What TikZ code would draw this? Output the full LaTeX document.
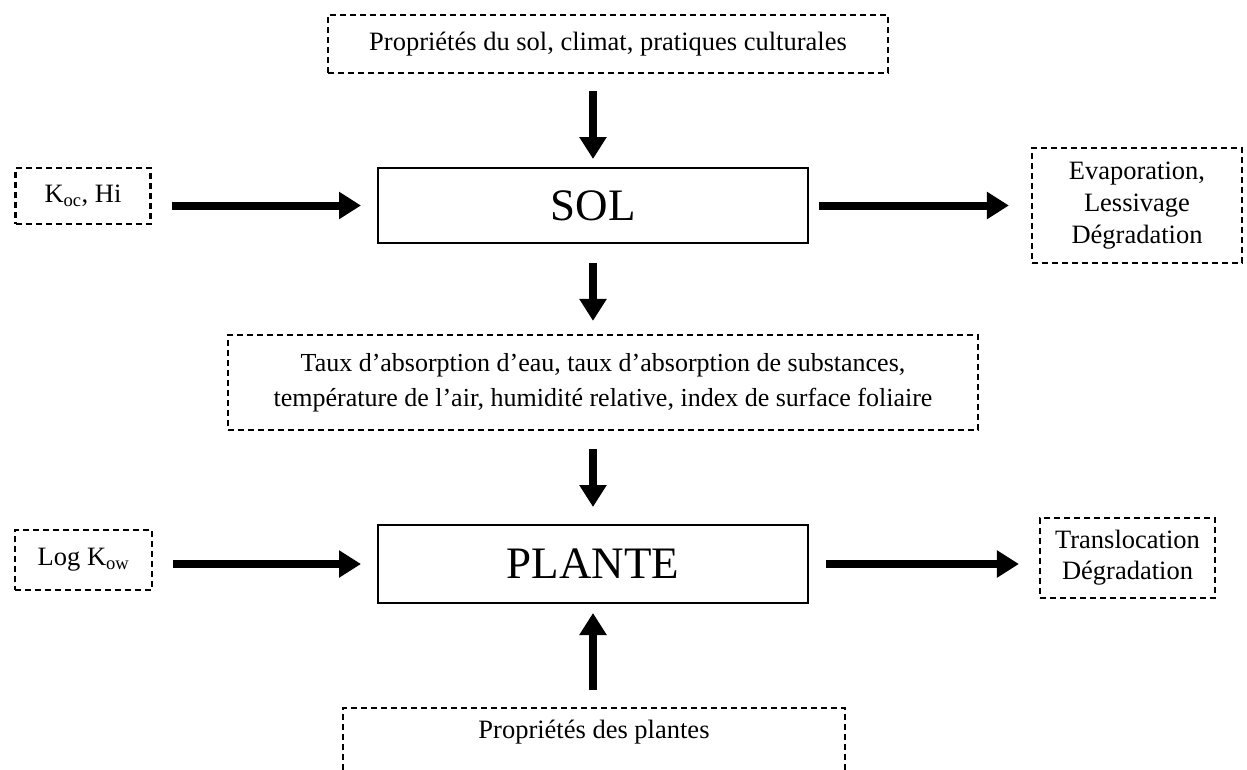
\documentclass[tikz,border=0pt]{standalone}
\usepackage{fontspec}
\setmainfont{Liberation Serif}
\usetikzlibrary{arrows.meta}

\tikzset{
  param/.style={draw,dashed,dash pattern=on 6pt off 4pt,line width=2.2pt,align=center,
    inner sep=0pt,font=\fontsize{26.5}{32}\selectfont},
  compart/.style={draw,line width=2pt,minimum width=430pt,inner sep=0pt,
    font=\fontsize{45}{50}\selectfont},
  flow/.style={line width=8pt,-{Triangle[length=22pt,width=26pt]}}
}

\begin{document}
\begin{tikzpicture}[x=1pt,y=-1pt]
\clip (0,0) rectangle (1247,769);
\fill[white] (0,0) rectangle (1247,769);

% compartiments
\node[compart,minimum height=75pt] (sol) at (593,205.5) {SOL};
\node[compart,minimum height=78pt] (plante) at (593,564) {PLANTE};

% parametres
\node[param,minimum width=560pt,minimum height=58pt] (proprsol) at (608,44)
  {Propriétés du sol, climat, pratiques culturales};
\node[param,minimum width=135pt,minimum height=56pt] (koc) at (83,196)
  {K\textsubscript{oc}, Hi};
\node[param,minimum width=210pt,minimum height=115pt] (evap) at (1137,205.5)
  {Evaporation,\\Lessivage\\Dégradation};
\node[param,minimum width=750pt,minimum height=95pt,font=\fontsize{26}{35}\selectfont] (absorp) at (603,382.5)
  {Taux d'absorption d'eau, taux d'absorption de substances,\\
   température de l'air, humidité relative, index de surface foliaire};
\node[param,minimum width=137pt,minimum height=60pt] (logkow) at (83.5,560)
  {Log K\textsubscript{ow}};
\node[param,minimum width=175pt,minimum height=80pt,font=\fontsize{26.5}{31}\selectfont] (transl) at (1127.5,558)
  {Translocation\\Dégradation};
\node[param,anchor=north,minimum width=502pt,inner ysep=12pt,text height=18pt,text depth=48pt] (proprpl) at (594,707)
  {Propriétés des plantes};

% fleches
\draw[flow,shorten <=17pt,shorten >=8pt] (proprsol.south -| sol.north) -- (sol.north);
\draw[flow,shorten <=20pt,shorten >=16pt] (koc.east |- sol.west) -- (sol.west);
\draw[flow,shorten <=10pt,shorten >=22pt] (sol.east) -- (sol.east -| evap.west);
\draw[flow,shorten <=19pt,shorten >=13pt] (sol.south) -- (sol.south |- absorp.north);
\draw[flow,shorten <=18pt,shorten >=17pt] (absorp.south -| plante.north) -- (plante.north);
\draw[flow,shorten <=20pt,shorten >=16pt] (logkow.east |- plante.west) -- (plante.west);
\draw[flow,shorten <=17pt,shorten >=20pt] (plante.east) -- (plante.east -| transl.west);
\draw[flow,shorten <=17pt,shorten >=9pt] (proprpl.north -| plante.south) -- (plante.south);
\end{tikzpicture}
\end{document}
